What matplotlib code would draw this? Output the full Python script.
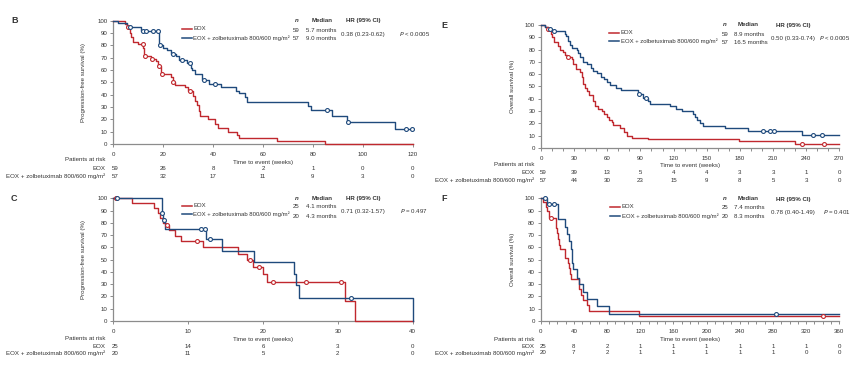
import numpy as np
import matplotlib
matplotlib.use("Agg")
import matplotlib.pyplot as plt
from matplotlib.lines import Line2D

plt.rcParams['font.family'] = ['Liberation Sans', 'DejaVu Sans']

W, H = 865, 379
RED = "#C0282E"
BLUE = "#1F4A7C"
GRAY = "#8c8c8c"
TXT = "#333333"

ARM_LABELS = ["EOX", "EOX + zolbetuximab 800/600 mg/m²"]

# ---------------- Panel B : PFS, all patients ----------------
B_eox_t = [0, 4.7, 5.3, 6.5, 7.2, 8, 10, 12, 12.4, 15, 17, 18.0, 19, 19.3, 23, 23.8, 24.7, 28.7, 30, 31.8, 32.7, 33.5, 34.2, 34.7, 38, 40.8, 42, 46, 49.7, 50.5, 65.8, 84.8, 120]
B_eox_s = [100, 97, 95, 90, 87, 83, 81, 78, 71, 69, 67, 63, 59, 57, 54, 50, 48, 46, 43, 39, 35, 32, 27, 23, 20, 16, 13, 10, 7, 5, 2.5, 0, 0]
B_eox_c = [5.7, 11.8, 12.7, 15.6, 18.3, 19.6, 24.1, 30.7]
B_zol_t = [0, 2, 5.3, 11, 18.4, 20, 21.4, 23, 25, 26.3, 29.7, 31.1, 31.7, 32.7, 35.4, 38.5, 43, 49.2, 50.5, 52.8, 53.7, 78, 79.3, 87.5, 93.5, 113, 120]
B_zol_s = [100, 98, 95, 92, 80, 78, 76, 73, 71, 68, 66, 62, 60, 57, 52, 49, 46, 43, 41, 38, 34, 31, 27.5, 23, 18, 12, 12]
B_zol_c = [6.7, 12, 13, 16, 17.8, 18.8, 24, 27.4, 30.7, 36.5, 40.8, 85.5, 94, 117.5, 119.7]
B_ticks = [0, 20, 40, 60, 80, 100, 120]
B_risk_eox = [59, 26, 8, 2, 1, 0, 0]
B_risk_zol = [57, 32, 17, 11, 9, 3, 0]
B_n = [59, 57]
B_median = ["5.7 months", "9.0 months"]
B_hr = "0.38 (0.23-0.62)"
B_p = ("<", "0.0005")

# ---------------- Panel E : OS, all patients ----------------
E_eox_t = [0, 3.6, 6, 8.7, 10, 11.8, 15.7, 17.5, 20, 22, 23.5, 27.8, 29, 31.4, 35.3, 36.8, 38.3, 39.8, 41.3, 43.4, 46.8, 47.4, 48.9, 51.3, 55, 57, 59.4, 61.3, 64, 65.5, 71.5, 75.4, 77.5, 82, 97, 179.5, 230, 270]
E_eox_s = [100, 98, 96.5, 93, 90, 86, 83, 80, 78, 76, 74, 72, 68, 64, 62, 58, 52, 49, 46, 43, 41, 38, 34, 32, 30, 28, 25, 23, 21, 19, 16, 13, 10, 8, 7, 5.3, 3.4, 3.4]
E_eox_c = [6.6, 24.5, 236.5, 256.2]
E_zol_t = [0, 3.6, 6, 10, 21.7, 22.8, 24.1, 26.2, 27.8, 32.3, 33.8, 35.5, 37.7, 41.3, 45.3, 47.4, 51, 54, 57, 59.4, 62.4, 68, 72.1, 87.8, 92.5, 96.5, 99, 116.8, 122, 127.3, 137.9, 139.5, 141, 144, 147, 166.5, 187.6, 235.9, 270]
E_zol_s = [100, 98, 96.5, 95, 93, 91, 87, 84, 81, 80, 77, 74, 70, 68, 65, 63, 61, 58, 56, 54, 51, 49, 47, 44, 41, 38, 36, 34, 32, 30, 28, 25, 23, 20, 17.5, 16, 14, 10.6, 10.6]
E_zol_c = [8.1, 11.8, 88.7, 95, 201, 207.6, 211, 246.4, 254]
E_ticks = [0, 30, 60, 90, 120, 150, 180, 210, 240, 270]
E_risk_eox = [59, 39, 13, 5, 4, 4, 3, 3, 1, 0]
E_risk_zol = [57, 44, 30, 23, 15, 9, 8, 5, 3, 0]
E_n = [59, 57]
E_median = ["8.9 months", "16.5 months"]
E_hr = "0.50 (0.33-0.74)"
E_p = ("<", "0.0005")

# ---------------- Panel C : PFS, subgroup ----------------
C_eox_t = [0, 2.5, 5.5, 6, 6.3, 6.7, 7.0, 7.5, 8.2, 9.1, 12.0, 16.6, 17.8, 18.6, 20.0, 20.6, 31.0, 32.3, 40]
C_eox_s = [100, 96, 92, 88, 84, 80, 78, 74, 69, 65, 60, 55, 50, 44, 38, 32, 16, 0, 0]
C_eox_c = [0.4, 7.2, 11.2, 18.3, 19.4, 21.4, 25.8, 30.4]
C_zol_t = [0, 6.5, 6.6, 6.9, 12.4, 14.5, 18.8, 24.1, 24.4, 24.8, 40]
C_zol_s = [100, 88, 82, 75, 67, 57, 48, 38, 29, 19, 0]
C_zol_c = [0.45, 6.55, 6.75, 11.7, 12.2, 12.9, 31.8]
C_ticks = [0, 10, 20, 30, 40]
C_risk_eox = [25, 14, 6, 3, 0]
C_risk_zol = [20, 11, 5, 2, 0]
C_n = [25, 20]
C_median = ["4.1 months", "4.3 months"]
C_hr = "0.71 (0.32-1.57)"
C_p = ("=", "0.497")

# ---------------- Panel F : OS, subgroup ----------------
F_eox_t = [0, 3.2, 6, 8, 10, 18, 19, 20, 21, 22, 23.3, 29.3, 32.9, 34, 35.7, 36.5, 46.2, 48.6, 51.4, 55.4, 58.6, 119, 360]
F_eox_s = [100, 97, 93, 90, 84, 80, 76, 72, 67, 62, 59, 51, 47, 43, 38, 34, 26, 21, 17, 13, 8.5, 4, 4]
F_eox_c = [12.4, 340.7]
F_zol_t = [0, 7.2, 20.5, 29.3, 32, 34.5, 36, 37.3, 38.2, 39, 44, 46.5, 51.4, 55.4, 67.5, 82.4, 360]
F_zol_s = [100, 95, 83, 77, 71, 65, 59, 53, 47, 42, 35, 30, 24, 18, 12, 6, 6]
F_zol_c = [5.2, 10, 16, 283.3]
F_ticks = [0, 40, 80, 120, 160, 200, 240, 280, 320, 360]
F_risk_eox = [25, 8, 2, 1, 1, 1, 1, 1, 1, 0]
F_risk_zol = [20, 7, 2, 1, 1, 1, 1, 1, 0, 0]
F_n = [25, 20]
F_median = ["7.4 months", "8.3 months"]
F_hr = "0.78 (0.40-1.49)"
F_p = ("=", "0.401")

fig = plt.figure(figsize=(W / 100, H / 100), dpi=100)
fig.patch.set_facecolor("white")


def fx(x):
    return x / W


def fy(y):
    return 1 - y / H


def step_val(t, s, x):
    i = np.searchsorted(np.asarray(t), x, side="right") - 1
    return np.asarray(s)[max(i, 0)]


FS = 4.4


def panel(letter, box, ylabel, eox_t, eox_s, eox_c, zol_t, zol_s, zol_c,
          ticks, minor, risk_eox, risk_zol, n, med, hr, p, lay):
    x0, x1, ytop, ybot = box
    ax = fig.add_axes([fx(x0), fy(ybot), fx(x1) - fx(x0), fy(ytop) - fy(ybot)])
    for t, s, c, col in [(eox_t, eox_s, eox_c, RED), (zol_t, zol_s, zol_c, BLUE)]:
        ax.step(t, s, where="post", color=col, lw=1.0, clip_on=False, zorder=3)
        cy = [step_val(t, s, v) for v in c]
        ax.plot(c, cy, "o", ms=2.8, mfc="white", mec=col, mew=0.8,
                clip_on=False, zorder=4)
    ax.set_xlim(ticks[0], ticks[-1])
    ax.set_ylim(0, 100)
    ax.set_xticks(ticks)
    if minor:
        ax.set_xticks(np.arange(ticks[0], ticks[-1] + 0.1, minor), minor=True)
    ax.set_yticks(np.arange(0, 101, 10))
    for side in ["top", "right"]:
        ax.spines[side].set_visible(False)
    for side in ["left", "bottom"]:
        ax.spines[side].set_color(GRAY)
        ax.spines[side].set_linewidth(0.9)
    ax.tick_params(axis="both", which="both", direction="out", length=2.0,
                   width=0.7, color=GRAY, labelsize=FS, labelcolor=TXT, pad=2.2)
    ax.tick_params(axis="x", which="minor", length=2.0)
    ax.tick_params(axis="x", pad=3.5)
    ax.set_facecolor("none")
    ax.set_ylabel(ylabel, fontsize=FS, color=TXT)
    ax.yaxis.set_label_coords(-(x0 - lay["ylab_x"]) / (x1 - x0), 0.5)

    # panel letter
    fig.text(fx(lay["let_x"]), fy(ytop), letter, fontsize=6.5, fontweight="bold",
             color=TXT, ha="left", va="center")

    # legend
    lx0 = lay["leg_x"]
    for k, (col, lab) in enumerate(zip([RED, BLUE], ARM_LABELS)):
        yy = lay["leg_y"][k]
        fig.add_artist(Line2D([fx(lx0), fx(lx0 + 10)], [fy(yy), fy(yy)],
                              color=col, lw=1.1, transform=fig.transFigure))
        fig.text(fx(lx0 + 11.5), fy(yy), lab, fontsize=FS - 0.1, color=TXT,
                 ha="left", va="center")

    # stats table
    hy = lay["head_y"]
    fig.text(fx(lay["n_x"]), fy(hy), "n", fontsize=FS, fontweight="bold",
             style="italic", color=TXT, ha="center", va="center")
    fig.text(fx(lay["med_x"]), fy(hy), "Median", fontsize=FS, fontweight="bold",
             color=TXT, ha="center", va="center")
    fig.text(fx(lay["hr_x"]), fy(hy), "HR (95% CI)", fontsize=FS,
             fontweight="bold", color=TXT, ha="center", va="center")
    for k in range(2):
        ry = lay["row_y"][k]
        fig.text(fx(lay["n_x"]), fy(ry), str(n[k]), fontsize=FS, color=TXT,
                 ha="center", va="center")
        fig.text(fx(lay["med_l"]), fy(ry), med[k], fontsize=FS, color=TXT,
                 ha="left", va="center")
    my = (lay["row_y"][0] + lay["row_y"][1]) / 2
    fig.text(fx(lay["hr_x"]), fy(my), hr, fontsize=FS, color=TXT,
             ha="center", va="center")
    fig.text(fx(lay["p_x"]), fy(my), r"$\it{P}$" + f" {p[0]} {p[1]}",
             fontsize=FS, color=TXT, ha="left", va="center")

    # x label and risk table
    xc = (x0 + x1) / 2
    fig.text(fx(xc), fy(lay["xlab_y"]), "Time to event (weeks)", fontsize=FS,
             color=TXT, ha="center", va="center")
    rx = lay["risk_x"]
    fig.text(fx(rx), fy(lay["risk_y"][0]), "Patients at risk", fontsize=FS,
             color=TXT, ha="right", va="center")
    for k, (lab, vals) in enumerate(zip(ARM_LABELS, [risk_eox, risk_zol])):
        yy = lay["risk_y"][k + 1]
        fig.text(fx(rx), fy(yy), lab, fontsize=FS, color=TXT,
                 ha="right", va="center")
        for tk, v in zip(ticks, vals):
            xp = x0 + (tk - ticks[0]) / (ticks[-1] - ticks[0]) * (x1 - x0)
            if tk == ticks[0]:
                xp += 2
            fig.text(fx(xp), fy(yy), str(v), fontsize=FS, color=TXT,
                     ha="center", va="center")
    return ax


layB = dict(ylab_x=86, let_x=11, leg_x=181.5, leg_y=[28.7, 37.7], head_y=20.7,
            n_x=296.5, med_x=322, hr_x=363.3, row_y=[30, 38.7], med_l=306.5,
            p_x=399.3, xlab_y=162.3, risk_x=105.5, risk_y=[160, 169, 176])
layE = dict(ylab_x=515, let_x=441, leg_x=609.3, leg_y=[32.7, 41.3], head_y=25,
            n_x=725, med_x=748.3, hr_x=793.3, row_y=[34, 42.7], med_l=734.3,
            p_x=819.3, xlab_y=165.3, risk_x=534, risk_y=[164.3, 172.7, 180.3])
layC = dict(ylab_x=86, let_x=11, leg_x=181.5, leg_y=[205.7, 214.3], head_y=198.3,
            n_x=296.5, med_x=322, hr_x=363.3, row_y=[206.7, 216], med_l=306.5,
            p_x=400, xlab_y=339, risk_x=105.5, risk_y=[339, 346, 353.3])
layF = dict(ylab_x=515, let_x=441, leg_x=610, leg_y=[206.7, 215.7], head_y=199,
            n_x=725, med_x=748.3, hr_x=793.3, row_y=[207.7, 216.7], med_l=734.3,
            p_x=822.7, xlab_y=339.3, risk_x=534, risk_y=[339.3, 346, 353])

panel("B", (113.3, 412.7, 20.7, 144), "Progression-free survival (%)",
      B_eox_t, B_eox_s, B_eox_c, B_zol_t, B_zol_s, B_zol_c,
      B_ticks, None, B_risk_eox, B_risk_zol, B_n, B_median, B_hr, B_p, layB)
panel("E", (541, 839.3, 25, 148), "Overall survival (%)",
      E_eox_t, E_eox_s, E_eox_c, E_zol_t, E_zol_s, E_zol_c,
      E_ticks, 10, E_risk_eox, E_risk_zol, E_n, E_median, E_hr, E_p, layE)
panel("C", (113.3, 412.7, 198.3, 321), "Progression-free survival (%)",
      C_eox_t, C_eox_s, C_eox_c, C_zol_t, C_zol_s, C_zol_c,
      C_ticks, None, C_risk_eox, C_risk_zol, C_n, C_median, C_hr, C_p, layC)
panel("F", (540.7, 839.3, 198.3, 321), "Overall survival (%)",
      F_eox_t, F_eox_s, F_eox_c, F_zol_t, F_zol_s, F_zol_c,
      F_ticks, 10, F_risk_eox, F_risk_zol, F_n, F_median, F_hr, F_p, layF)

fig.savefig("out.png", dpi=100, facecolor="white")
